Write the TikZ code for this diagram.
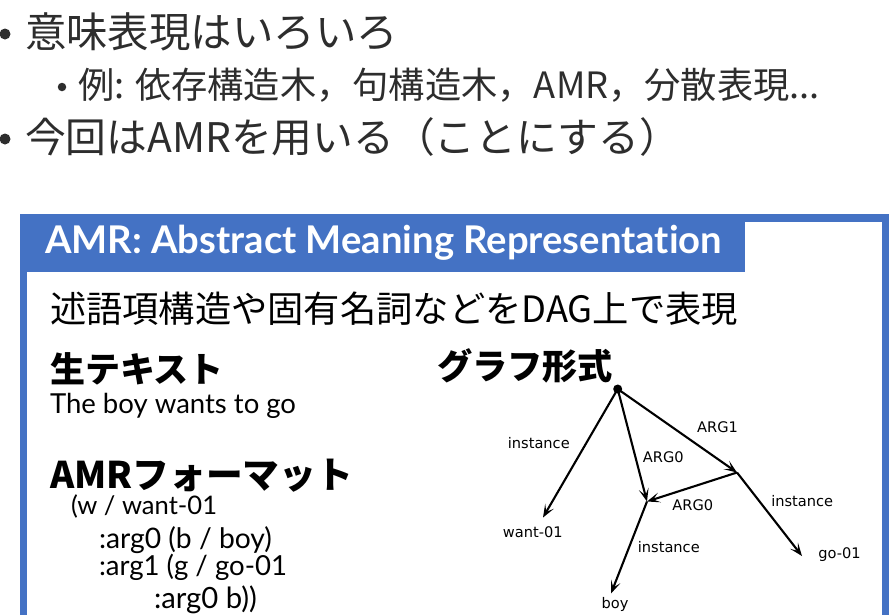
\documentclass[tikz,border=0pt]{standalone}
\usepackage{fontspec}
\setmainfont{Lato}[Ligatures=NoCommon]
\newfontfamily\jp{Noto Sans CJK JP}
\newfontfamily\gv{DejaVu Sans}
\usetikzlibrary{arrows.meta}
\definecolor{amrblue}{RGB}{68,114,196}
\definecolor{slidegray}{RGB}{45,45,45}
\newcommand\fitto[2]{\resizebox{#1}{!}{#2}}
\begin{document}
\begin{tikzpicture}[x=1pt,y=-1pt,
  txt/.style={anchor=west, inner sep=0pt, outer sep=0pt},
  pt/.style={coordinate},
  edge/.style={-{Stealth[length=13pt,width=10pt,inset=6.5pt]}, line width=2.1pt},
  elab/.style={font=\gv\fontsize{14.6}{17}\selectfont, inner sep=0pt},
  bul/.style={circle, fill=slidegray, inner sep=0pt},
]
\useasboundingbox (0,0) rectangle (889,614);
\fill[white] (0,0) rectangle (889,614);

% top bullets
\node[bul, minimum size=11pt] (b1) at (5,34) {};
\node[txt, text=slidegray, font=\jp\fontsize{41}{45}\selectfont] (l1) at (25,32) {\fitto{373pt}{意味表現はいろいろ}};
\node[bul, minimum size=8.5pt] (b2) at (62,87) {};
\node[txt, text=slidegray, font=\jp\fontsize{34}{38}\selectfont] (l2) at (78,85) {\fitto{742pt}{例: 依存構造木，句構造木，AMR，分散表現...}};
\node[bul, minimum size=11pt] (b3) at (5,139) {};
\node[txt, text=slidegray, font=\jp\fontsize{41}{45}\selectfont] (l3) at (25,137) {\fitto{655pt}{今回はAMRを用いる（ことにする）}};

% box
\draw[amrblue, line width=7.5pt] (23.5,218) rectangle (885.5,650);
\fill[amrblue] (20,214) rectangle (745,272);
\node[txt, text=white, font=\bfseries\fontsize{33}{36}\selectfont] (title) at (45,243) {\fitto{677pt}{AMR: Abstract Meaning Representation}};

\node[txt, font=\jp\fontsize{36}{40}\selectfont] (sub) at (50,309) {\fitto{688pt}{述語項構造や固有名詞などをDAG上で表現}};
\node[txt, font=\jp\bfseries\fontsize{35}{40}\selectfont] (raw) at (50,369) {\fitto{174pt}{生テキスト}};
\node[txt, font=\fontsize{24}{28}\selectfont] (sent) at (50,406) {\fitto{246pt}{The boy wants to go}};
\node[txt, font=\jp\bfseries\fontsize{35}{40}\selectfont] (fmt) at (50,476) {\fitto{303pt}{AMRフォーマット}};
\node[txt, font=\fontsize{24}{28}\selectfont] (c1) at (71,506) {\fitto{146pt}{(w / want-01}};
\node[txt, font=\fontsize{24}{28}\selectfont] (c2) at (99,540) {\fitto{173pt}{:arg0 (b / boy)}};
\node[txt, font=\fontsize{24}{28}\selectfont] (c3) at (99,567) {\fitto{188pt}{:arg1 (g / go-01}};
\node[txt, font=\fontsize{24}{28}\selectfont] (c4) at (154,600) {\fitto{103pt}{:arg0 b))}};
\node[txt, font=\jp\bfseries\fontsize{35}{40}\selectfont] (graf) at (437,366) {\fitto{176pt}{グラフ形式}};

% graph
\node[circle, fill=black, inner sep=0pt, minimum size=9pt] (root) at (617.7,389) {};
\node[pt] (want) at (543,517.5) {};
\node[pt] (bn) at (647,501.5) {};
\node[pt] (gn) at (737,472.5) {};
\node[pt] (boy) at (611,593.5) {};
\node[pt] (go) at (802,556) {};

\draw[edge] (root.center) -- (want);
\draw[edge] (root.center) -- (bn);
\draw[edge] (root.center) -- (gn);
\draw[edge] (gn) -- (bn);
\draw[edge] (bn) -- (boy);
\draw[edge] (gn) -- (go);

\node[elab] (lw) at (532.8,532.5) {want-01};
\node[elab] (lb) at (615,604.3) {boy};
\node[elab] (lg) at (839.5,554.3) {go-01};

\node[elab] at (538.8,442.7) {instance};
\node[elab] at (663.3,456.7) {ARG0};
\node[elab] at (717.5,427.3) {ARG1};
\node[elab] at (692.8,505) {ARG0};
\node[elab] at (668.8,547.3) {instance};
\node[elab] at (802.2,501) {instance};
\end{tikzpicture}
\end{document}
